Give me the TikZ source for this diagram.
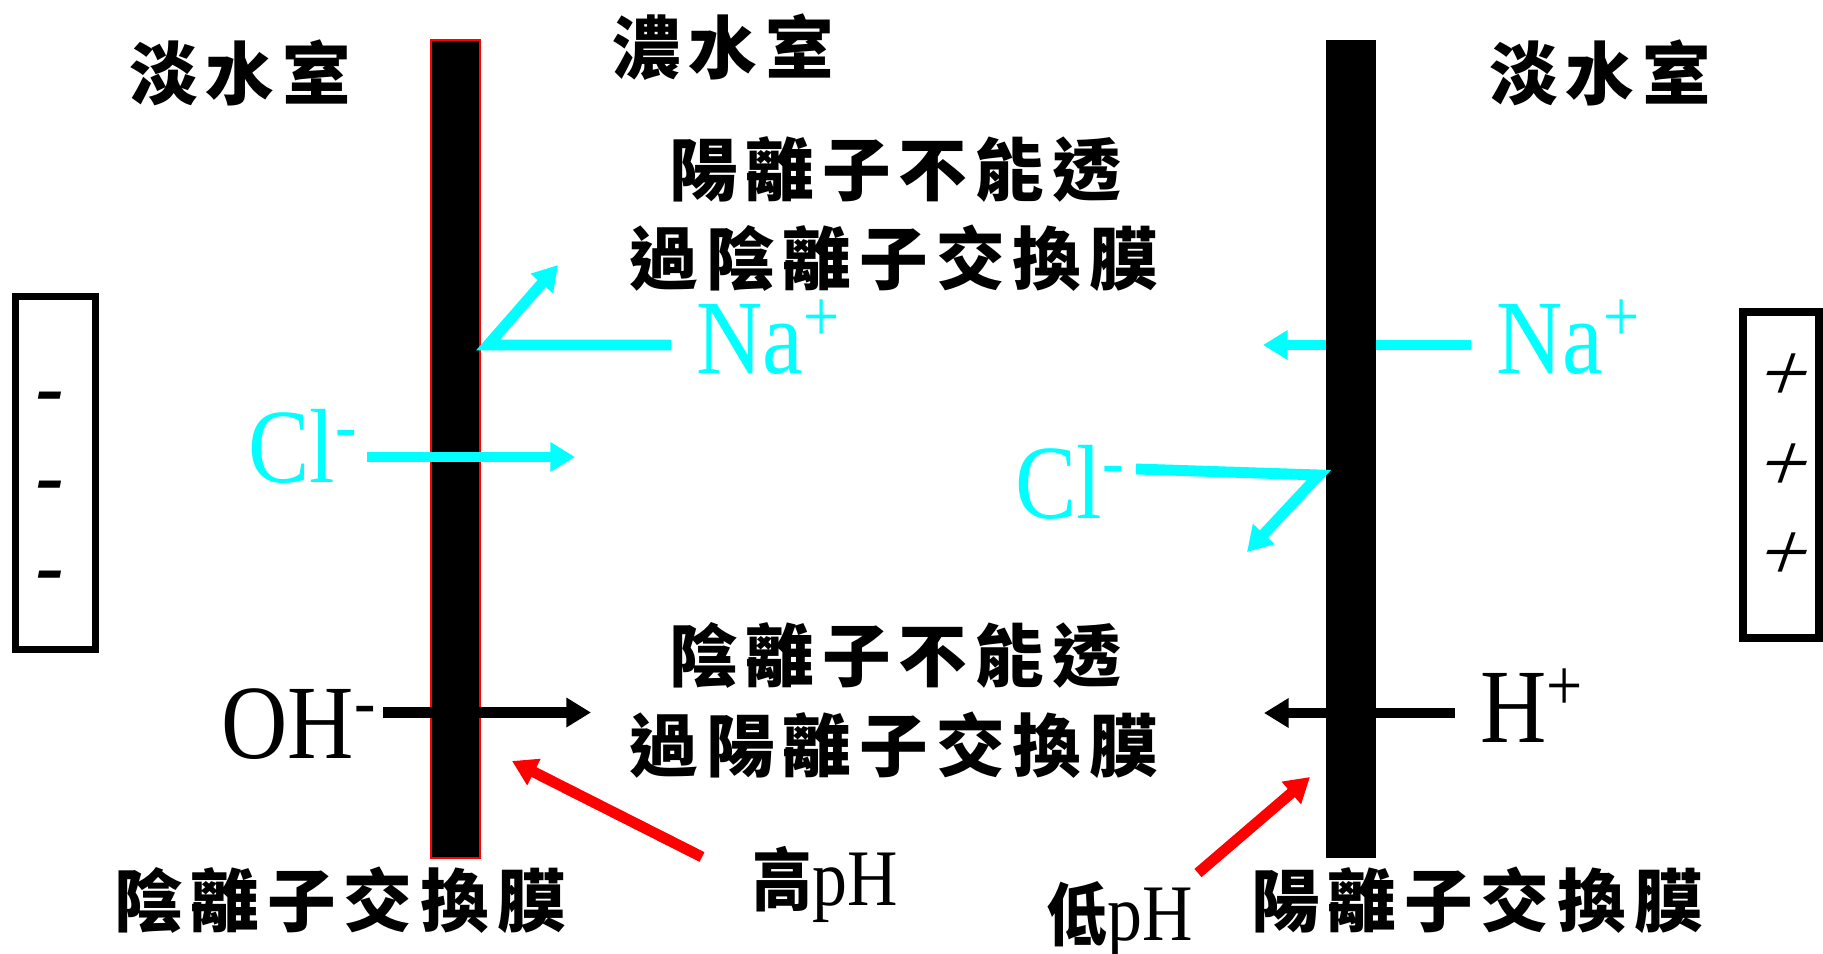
\documentclass[tikz,border=0pt]{standalone}
\usepackage{fontspec}
\setmainfont{Liberation Serif}
\newfontfamily\cjk{Noto Sans CJK TC}
\usetikzlibrary{arrows.meta}
\definecolor{ioncyan}{RGB}{0,255,255}
\definecolor{pure red}{RGB}{255,0,0}
\newcommand\cjkgap{\kern 2.3pt}
\begin{document}
\begin{tikzpicture}[x=0.01cm,y=-0.01cm,
  zh/.style={font=\cjk\bfseries\fontsize{19.5}{21}\selectfont, inner sep=0pt},
  ion/.style={font=\fontsize{30}{32}\selectfont, inner sep=0pt, anchor=base west, xscale=0.87},
  phl/.style={font=\fontsize{22.8}{24}\selectfont, inner sep=0pt, anchor=base west, xscale=0.87},
  membrane/.style={fill=black, minimum width=0.49cm, minimum height=8.17cm, inner sep=0pt},
  electrode/.style={draw=black, fill=white, inner sep=0pt},
  minus/.style={font=\fontsize{24}{26}\selectfont\bfseries\itshape, inner sep=0pt},
  plus/.style={font=\fontsize{24}{26}\selectfont, inner sep=0pt, xslant=0.35},
  flow/.style={line width=3.1pt, line join=miter, line cap=butt, -{Triangle[length=7pt,width=8pt]}},
  cyanflow/.style={flow, draw=ioncyan},
  blackflow/.style={flow, draw=black},
  redflow/.style={flow, draw=pure red}]
\useasboundingbox (0,0) rectangle (1823,954);

% electrodes
\node[electrode, line width=2pt, minimum width=0.80cm, minimum height=3.52cm] (neg) at (55.5,473) {};
\node[electrode, line width=2.3pt, minimum width=0.76cm, minimum height=3.26cm] (pos) at (1781,475) {};
\node[minus] (n1) at (51,404) {-};
\node[minus] (n2) at (51,493) {-};
\node[minus] (n3) at (51,583) {-};
\node[plus] (p1) at (1786,378) {+};
\node[plus] (p2) at (1786,468) {+};
\node[plus] (p3) at (1786,557) {+};

% coordinates of arrows
\coordinate (naL1) at (671,345);
\coordinate (naL2) at (488,345);
\coordinate (naL3) at (558,265);
\coordinate (clL1) at (367,457);
\coordinate (clL2) at (575,457);
\coordinate (ohL1) at (383,712.5);
\coordinate (ohL2) at (591,712.5);
\coordinate (hiL1) at (702,857);
\coordinate (hiL2) at (512,761);
\coordinate (naR1) at (1471,345);
\coordinate (naR2) at (1263,345);
\coordinate (clR1) at (1136,469);
\coordinate (clR2) at (1319,475);
\coordinate (clR3) at (1247,552);
\coordinate (hR1) at (1455,713);
\coordinate (hR2) at (1264,713);
\coordinate (loR1) at (1198,873);
\coordinate (loR2) at (1310,777);

% left membrane (anion exchange)
\node[membrane, draw=pure red, line width=0.6pt] (memL) at (455.5,449) {};
\draw[cyanflow] (naL1) -- (naL2) -- (naL3);
\draw[cyanflow] (clL1) -- (clL2);
\draw[blackflow] (ohL1) -- (ohL2);
\draw[redflow] (hiL1) -- (hiL2);

% right membrane (cation exchange)
\draw[cyanflow] (naR1) -- (naR2);
\draw[blackflow] (hR1) -- (hR2);
\node[membrane, minimum width=0.50cm] (memR) at (1351,449) {};
\draw[cyanflow] (clR1) -- (clR2) -- (clR3);
\draw[redflow] (loR1) -- (loR2);

% chamber labels
\node[zh] (dL) at (240,73) {淡\cjkgap 水\cjkgap 室};
\node[zh] (conc) at (723,47) {濃\cjkgap 水\cjkgap 室};
\node[zh] (dR) at (1600,73) {淡\cjkgap 水\cjkgap 室};

\node[zh] (t1) at (895,169) {陽\cjkgap 離\cjkgap 子\cjkgap 不\cjkgap 能\cjkgap 透};
\node[zh] (t2) at (894,258) {過\cjkgap 陰\cjkgap 離\cjkgap 子\cjkgap 交\cjkgap 換\cjkgap 膜};
\node[zh] (t3) at (895,655) {陰\cjkgap 離\cjkgap 子\cjkgap 不\cjkgap 能\cjkgap 透};
\node[zh] (t4) at (894,745) {過\cjkgap 陽\cjkgap 離\cjkgap 子\cjkgap 交\cjkgap 換\cjkgap 膜};

\node[zh] (bL) at (340,900) {陰\cjkgap 離\cjkgap 子\cjkgap 交\cjkgap 換\cjkgap 膜};
\node[zh] (bR) at (1477,900) {陽\cjkgap 離\cjkgap 子\cjkgap 交\cjkgap 換\cjkgap 膜};

% ions
\node[ion, text=ioncyan] (naL) at (696,373) {Na\textsuperscript{+}};
\node[ion, text=ioncyan] (naR) at (1496,373) {Na\textsuperscript{+}};
\node[ion, text=ioncyan] (clL) at (248,482) {Cl\textsuperscript{-}};
\node[ion, text=ioncyan] (clR) at (1015,518) {Cl\textsuperscript{-}};
\node[ion] (oh) at (221,758) {OH\textsuperscript{-}};
\node[ion] (hp) at (1480,742) {H\textsuperscript{+}};

% pH labels
\node[phl] (high) at (752,905) {{\cjk\bfseries\fontsize{19.5}{21}\selectfont 高}pH};
\node[phl] (low) at (1047,940) {{\cjk\bfseries\fontsize{19.5}{21}\selectfont 低}pH};
\end{tikzpicture}
\end{document}
